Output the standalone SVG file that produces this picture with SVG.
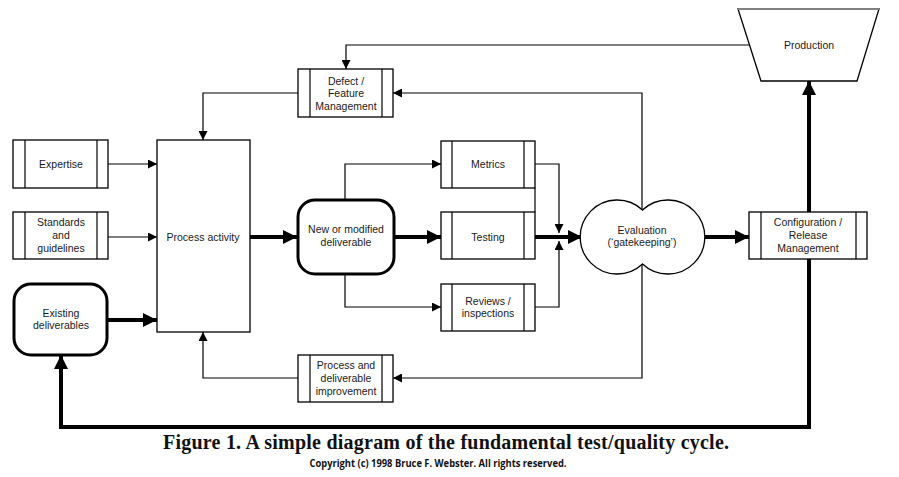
<svg xmlns="http://www.w3.org/2000/svg" width="899" height="477" viewBox="0 0 899 477">
<style>
.box{fill:#fff;stroke:#000;stroke-width:1.3}
.rnd{fill:#fff;stroke:#000;stroke-width:3}
.t{font-family:"Liberation Sans",Arial,sans-serif;font-size:10.5px;fill:#1a1a1a;text-anchor:middle}
.thin{fill:none;stroke:#000;stroke-width:1.2}
.thick{fill:none;stroke:#000;stroke-width:4}
</style>
<defs>
<marker id="a" markerWidth="9" markerHeight="9" refX="9" refY="4.5" orient="auto" markerUnits="userSpaceOnUse"><path d="M0,0 L9,4.5 L0,9 Z" fill="#000"/></marker>
<marker id="A" markerWidth="14" markerHeight="14" refX="14" refY="7" orient="auto" markerUnits="userSpaceOnUse"><path d="M0,0 L14,7 L0,14 Z" fill="#000"/></marker>
</defs>
<rect width="899" height="477" fill="#fff"/>
<g id="connectors">
<line class="thin" x1="108" y1="164" x2="157" y2="164" marker-end="url(#a)"/>
<line class="thin" x1="108" y1="237" x2="157" y2="237" marker-end="url(#a)"/>
<line class="thick" x1="108" y1="320" x2="157" y2="320" marker-end="url(#A)"/>
<line class="thick" x1="250" y1="237" x2="297" y2="237" marker-end="url(#A)"/>
<line class="thick" x1="394" y1="237" x2="441" y2="237" marker-end="url(#A)"/>
<polyline class="thin" points="345,199 345,164 441,164" marker-end="url(#a)"/>
<polyline class="thin" points="345,274 345,307 441,307" marker-end="url(#a)"/>
<polyline class="thin" points="535,164 559,164 559,233" marker-end="url(#a)"/>
<polyline class="thin" points="535,307 559,307 559,241" marker-end="url(#a)"/>
<line class="thin" x1="535" y1="188" x2="535" y2="212"/>
<line class="thick" x1="535" y1="237" x2="582" y2="237" marker-end="url(#A)"/>
<line class="thick" x1="703" y1="237" x2="749" y2="237" marker-end="url(#A)"/>
<line class="thick" x1="809" y1="212" x2="809" y2="81" marker-end="url(#A)"/>
<polyline class="thick" points="809,259 809,427 61,427 61,355" marker-end="url(#A)"/>
<polyline class="thin" points="749,45 346,45 346,69" marker-end="url(#a)"/>
<polyline class="thin" points="298,93 203,93 203,140" marker-end="url(#a)"/>
<polyline class="thin" points="642,210 642,93 393,93" marker-end="url(#a)"/>
<polyline class="thin" points="642,264 642,378 393,378" marker-end="url(#a)"/>
<polyline class="thin" points="298,378 203,378 203,332" marker-end="url(#a)"/>
</g>
<g id="expertise">
<rect class="box" x="13" y="140" width="95" height="48"/>
<line class="thin" x1="25" y1="140" x2="25" y2="188"/><line class="thin" x1="97" y1="140" x2="97" y2="188"/>
<text class="t" x="61" y="168">Expertise</text>
</g>
<g id="standards">
<rect class="box" x="13" y="212" width="95" height="47"/>
<line class="thin" x1="25" y1="212" x2="25" y2="259"/><line class="thin" x1="97" y1="212" x2="97" y2="259"/>
<text class="t" x="61" y="226">Standards</text><text class="t" x="61" y="239">and</text><text class="t" x="61" y="252">guidelines</text>
</g>
<g id="existing">
<rect class="rnd" x="14" y="284" width="93" height="71" rx="17"/>
<text class="t" x="61" y="317">Existing</text><text class="t" x="61" y="329">deliverables</text>
</g>
<g id="process">
<rect class="box" x="157" y="140" width="93" height="192"/>
<text class="t" x="203" y="241">Process activity</text>
</g>
<g id="newdeliv">
<rect class="rnd" x="298" y="200" width="96" height="74" rx="17"/>
<text class="t" x="346" y="233">New or modified</text><text class="t" x="346" y="246">deliverable</text>
</g>
<g id="metrics">
<rect class="box" x="441" y="141" width="94" height="47"/>
<line class="thin" x1="452" y1="141" x2="452" y2="188"/><line class="thin" x1="524" y1="141" x2="524" y2="188"/>
<text class="t" x="488" y="168">Metrics</text>
</g>
<g id="testing">
<rect class="box" x="441" y="212" width="94" height="47"/>
<line class="thin" x1="452" y1="212" x2="452" y2="259"/><line class="thin" x1="524" y1="212" x2="524" y2="259"/>
<text class="t" x="488" y="241">Testing</text>
</g>
<g id="reviews">
<rect class="box" x="441" y="284" width="94" height="47"/>
<line class="thin" x1="452" y1="284" x2="452" y2="331"/><line class="thin" x1="524" y1="284" x2="524" y2="331"/>
<text class="t" x="488" y="305">Reviews /</text><text class="t" x="488" y="317">inspections</text>
</g>
<g id="evaluation">
<path class="box" d="M642.5,210 A37,37 0 1,0 642.5,264 A37,37 0 1,0 642.5,210 Z"/>
<text class="t" x="642" y="234">Evaluation</text><text class="t" x="642" y="246">(‘gatekeeping’)</text>
</g>
<g id="config">
<rect class="box" x="749" y="212" width="118" height="47"/>
<line class="thin" x1="761" y1="212" x2="761" y2="259"/><line class="thin" x1="856" y1="212" x2="856" y2="259"/>
<text class="t" x="808" y="226">Configuration /</text><text class="t" x="808" y="239">Release</text><text class="t" x="808" y="252">Management</text>
</g>
<g id="production">
<polygon class="box" points="738,9 879,9 857,81 761,81"/>
<line x1="738" y1="9" x2="879" y2="9" stroke="#999" stroke-width="1.3"/>
<text class="t" x="809" y="49">Production</text>
</g>
<g id="defect">
<rect class="box" x="298" y="69" width="95" height="48"/>
<line class="thin" x1="310" y1="69" x2="310" y2="117"/><line class="thin" x1="382" y1="69" x2="382" y2="117"/>
<text class="t" x="346" y="85">Defect /</text><text class="t" x="346" y="97">Feature</text><text class="t" x="346" y="110">Management</text>
</g>
<g id="improvement">
<rect class="box" x="298" y="355" width="95" height="47"/>
<line class="thin" x1="310" y1="355" x2="310" y2="402"/><line class="thin" x1="382" y1="355" x2="382" y2="402"/>
<text class="t" x="346" y="369">Process and</text><text class="t" x="346" y="382">deliverable</text><text class="t" x="346" y="395">improvement</text>
</g>
<text x="446" y="449" font-family="'Liberation Serif','Times New Roman',serif" font-weight="bold" font-size="20" text-anchor="middle" fill="#111" textLength="566" lengthAdjust="spacing">Figure 1. A simple diagram of the fundamental test/quality cycle.</text>
<text x="438" y="467" font-family="'Open Sans','Liberation Sans',sans-serif" font-weight="bold" font-size="10" text-anchor="middle" fill="#111" textLength="257" lengthAdjust="spacingAndGlyphs">Copyright (c) 1998 Bruce F. Webster. All rights reserved.</text>
</svg>
